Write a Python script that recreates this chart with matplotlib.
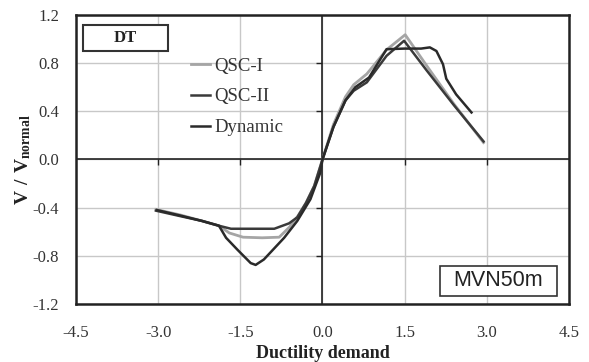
import matplotlib
matplotlib.use("Agg")
import matplotlib.pyplot as plt
from matplotlib.patches import Rectangle
import numpy as np

plt.rcParams['font.family'] = ['Liberation Serif', 'DejaVu Serif']
plt.rcParams['mathtext.fontset'] = 'custom'
plt.rcParams['mathtext.rm'] = 'Liberation Serif'
plt.rcParams['mathtext.bf'] = 'Liberation Serif:bold'

# data
qsc1_x = [-3.04, -2.6, -2.2, -1.89, -1.7, -1.45, -1.1, -0.79, -0.6, -0.45, -0.3, -0.15, 0.0,
          0.2, 0.42, 0.57, 0.81, 1.17, 1.51, 1.93, 2.4, 2.94]
qsc1_y = [-0.415, -0.46, -0.51, -0.55, -0.61, -0.645, -0.65, -0.645, -0.56, -0.47, -0.36, -0.22, 0.0,
          0.29, 0.52, 0.62, 0.71, 0.91, 1.035, 0.76, 0.46, 0.14]

qsc2_x = [-3.04, -2.6, -2.2, -1.89, -1.67, -1.2, -0.88, -0.61, -0.46, -0.3, -0.15, 0.0,
          0.2, 0.42, 0.57, 0.81, 1.17, 1.49, 1.9, 2.4, 2.94]
qsc2_y = [-0.425, -0.47, -0.51, -0.55, -0.575, -0.575, -0.575, -0.53, -0.48, -0.36, -0.22, 0.0,
          0.27, 0.49, 0.57, 0.64, 0.86, 0.985, 0.74, 0.45, 0.15]

dyn_x = [-3.02, -2.6, -2.2, -1.89, -1.76, -1.55, -1.31, -1.22, -1.07, -0.7, -0.46, -0.22, -0.04, 0.0,
         0.2, 0.42, 0.6, 0.85, 1.17, 1.5, 1.8, 1.96, 2.08, 2.2, 2.26, 2.44, 2.72]
dyn_y = [-0.42, -0.465, -0.51, -0.55, -0.65, -0.75, -0.86, -0.875, -0.83, -0.65, -0.51, -0.33, -0.11, 0.0,
         0.27, 0.49, 0.6, 0.68, 0.915, 0.92, 0.92, 0.93, 0.90, 0.79, 0.67, 0.54, 0.39]

xticks = [-4.5, -3.0, -1.5, 0.0, 1.5, 3.0, 4.5]
yticks = [-1.2, -0.8, -0.4, 0.0, 0.4, 0.8, 1.2]

fig = plt.figure(figsize=(5.89, 3.62), dpi=100)
ax = fig.add_axes([0.129, 0.160, 0.837, 0.799])

ax.set_xlim(-4.5, 4.5)
ax.set_ylim(-1.2, 1.2)
ax.set_xticks(xticks)
ax.set_yticks(yticks)
ax.set_xticklabels(['%.1f' % v for v in xticks])
ax.set_yticklabels(['%.1f' % v for v in yticks])
ax.tick_params(length=0, labelsize=12, colors='#333333')
ax.tick_params(axis='x', pad=15)
ax.tick_params(axis='y', pad=12)
ax.grid(True, color='#c8c8c8', lw=1)
ax.set_axisbelow(True)
for s in ax.spines.values():
    s.set_linewidth(1.8)
    s.set_color('#222222')

# zero axes with small ticks
ax.axhline(0, color='#222222', lw=1.2, zorder=2)
ax.axvline(0, color='#222222', lw=1.2, zorder=2)
ax.plot([v for v in xticks[1:-1] if v != 0], [0] * 4, ls='none', marker=3, ms=4, color='#222222', mew=1)
ax.plot([0] * 4, [v for v in yticks[1:-1] if v != 0], ls='none', marker=0, ms=4, color='#222222', mew=1)

ax.plot(qsc1_x, qsc1_y, color='#a5a5a5', lw=2.0, label='QSC-I', zorder=3)
ax.plot(qsc2_x, qsc2_y, color='#3a3a3a', lw=1.8, label='QSC-II', zorder=4)
ax.plot(dyn_x, dyn_y, color='#2a2a2a', lw=1.8, label='Dynamic', zorder=4)

leg = ax.legend(loc='upper left', bbox_to_anchor=(0.2, 0.91), frameon=False,
                handlelength=1.0, handletextpad=0.2, labelspacing=0.72, fontsize=13.5)
for t in leg.get_texts():
    t.set_color('#333333')

ax.add_patch(Rectangle((0.014, 0.875), 0.173, 0.09, transform=ax.transAxes, fc='white',
                       ec='#333333', lw=1.5, zorder=5))
ax.text(0.1, 0.92, 'DT', transform=ax.transAxes, ha='center', va='center', fontsize=12,
        fontweight='bold', color='#222222', zorder=6)
ax.add_patch(Rectangle((0.738, 0.028), 0.238, 0.103, transform=ax.transAxes, fc='white',
                       ec='#333333', lw=1.2, zorder=5))
ax.text(0.857, 0.08, 'MVN50m', transform=ax.transAxes, ha='center', va='center', fontsize=15.5,
        family='Liberation Sans', color='#222222', zorder=6)

ax.set_xlabel('Ductility demand', fontsize=13, fontweight='bold', labelpad=3, color='#222222')
ax.set_ylabel(r'$\mathbf{V\ /\ V_{normal}}$', fontsize=14, labelpad=0, color='#222222')

fig.savefig('out.png', dpi=100)
